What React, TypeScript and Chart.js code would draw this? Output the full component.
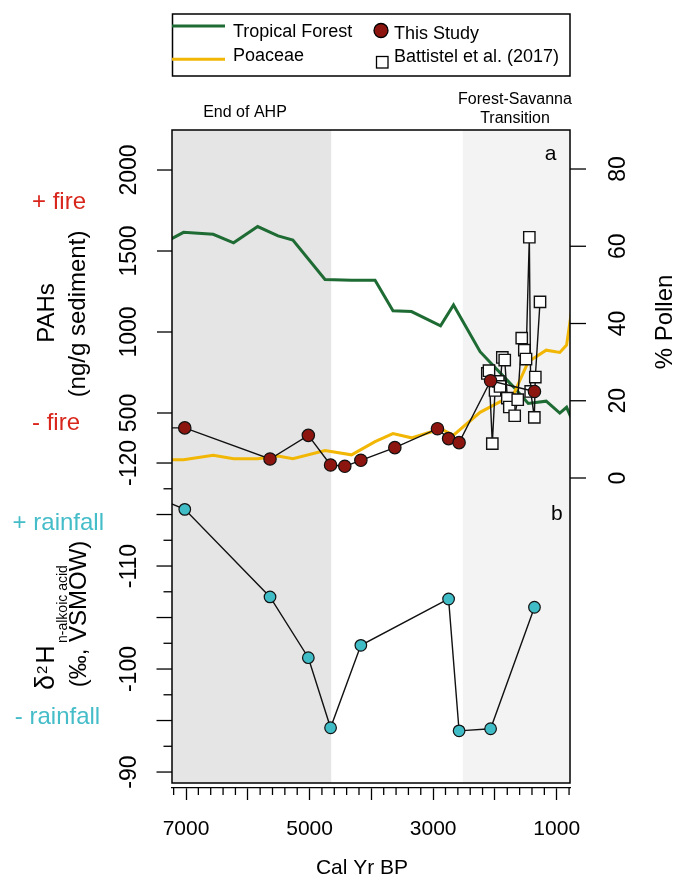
import React, { useEffect, useRef } from "react";
import { Chart, registerables } from "chart.js";

Chart.register(...registerables);

const FONT = "'Liberation Sans', Arial, Helvetica, sans-serif";

// ---------------- Data (x = calibrated years BP) ----------------
// Pollen record (% Pollen, right axis)
const pollenAge = [7300, 7040, 6560, 6230, 5840, 5510, 5270, 4750, 4320, 3940, 3650, 3350, 2880, 2670, 2240, 1700, 1460, 1170, 950, 840, 760];
const tropicalForestPct = [61.4, 63.6, 63.1, 60.9, 65.1, 62.7, 61.6, 51.4, 51.2, 51.2, 43.3, 43.1, 39.4, 44.8, 32.7, 23.6, 19.3, 19.9, 16.8, 18.3, 15.4];
const poaceaePct = [4.7, 4.7, 5.9, 5.0, 5.0, 5.7, 5.0, 7.1, 6.0, 9.4, 11.5, 10.4, 12.7, 11.1, 17.0, 21.6, 30.1, 33.1, 32.5, 34.4, 43.2];

// PAHs (ng/g sediment) - this study
const studyAge = [7400, 7020, 5640, 5020, 4660, 4430, 4170, 3620, 2930, 2750, 2580, 2070, 1360];
const studyPAH = [408, 408, 216, 362, 179, 171, 208, 286, 403, 342, 317, 699, 633];

// PAHs (ng/g sediment) - Battistel et al. (2017)
const battistelAge = [2123, 2096, 2042, 1998, 1945, 1917, 1880, 1841, 1799, 1767, 1680, 1631, 1566, 1524, 1497, 1443, 1421, 1362, 1346, 1270];
const battistelPAH = [744, 761, 311, 639, 695, 664, 843, 827, 592, 537, 483, 582, 962, 888, 833, 1585, 633, 473, 722, 1186];

// δ2H n-alkoic acid (‰, VSMOW)
const d2hAge = [7500, 7020, 5640, 5020, 4660, 4170, 2750, 2580, 2070, 1360];
const d2hValue = [-116.7, -115.5, -107.0, -101.1, -94.3, -102.3, -106.8, -94.0, -94.2, -106.0];

// Ticks
const xTickValues = [7200, 7000, 6800, 6600, 6400, 6200, 6000, 5800, 5600, 5400, 5200, 5000, 4800, 4600, 4400, 4200, 4000, 3800, 3600, 3400, 3200, 3000, 2800, 2600, 2400, 2200, 2000, 1800, 1600, 1400, 1200, 1000, 800];
const xMajorTicks = [7000, 6000, 5000, 4000, 3000, 2000, 1000];
const xTickLabels = [7000, 5000, 3000, 1000];
const pahTicks = [500, 1000, 1500, 2000];
const d2hTicks = [-120, -117.5, -115, -112.5, -110, -107.5, -105, -102.5, -100, -97.5, -95, -92.5, -90];
const d2hMajorTicks = [-120, -115, -110, -105, -100, -95, -90];
const d2hTickLabels = [-120, -110, -100, -90];
const pollenTicks = [0, 20, 40, 60, 80];

// Shaded periods
const ahpEndAge = 4650;
const transitionStartAge = 2520;

const pts = (xs: number[], ys: number[]) => xs.map((x, i) => ({ x, y: ys[i] }));

function rotText(ctx: CanvasRenderingContext2D, text: string, x: number, y: number, font: string, color = "#000", align: CanvasTextAlign = "center", baseline: CanvasTextBaseline = "alphabetic") {
  ctx.save();
  ctx.translate(x, y);
  ctx.rotate(-Math.PI / 2);
  ctx.font = font;
  ctx.fillStyle = color;
  ctx.textAlign = align;
  ctx.textBaseline = baseline;
  ctx.fillText(text, 0, 0);
  ctx.restore();
}

function text(ctx: CanvasRenderingContext2D, t: string, x: number, y: number, font: string, color = "#000", align: CanvasTextAlign = "center") {
  ctx.save();
  ctx.font = font;
  ctx.fillStyle = color;
  ctx.textAlign = align;
  ctx.textBaseline = "middle";
  ctx.fillText(t, x, y);
  ctx.restore();
}

function line(ctx: CanvasRenderingContext2D, x1: number, y1: number, x2: number, y2: number, w = 1.3, c = "#000") {
  ctx.save();
  ctx.beginPath();
  ctx.moveTo(x1, y1);
  ctx.lineTo(x2, y2);
  ctx.lineWidth = w;
  ctx.strokeStyle = c;
  ctx.stroke();
  ctx.restore();
}

const RED = "#8C1510";
const CYAN = "#40BCC6";
const GREEN = "#1E6B34";
const YELLOW = "#F2B705";
const FIRE_RED = "#D9261C";
const RAIN_CYAN = "#45BDC9";

const decor = {
  id: "decor",
  beforeDatasetsDraw(chart: any) {
    const { ctx, chartArea: ca, scales } = chart;
    const x = scales.x;
    const boxBottom = ca.bottom - 5;
    ctx.save();
    ctx.fillStyle = "#E5E5E5";
    const ahpR = x.getPixelForValue(ahpEndAge);
    ctx.fillRect(ca.left, ca.top, ahpR - ca.left, boxBottom - ca.top);
    ctx.fillStyle = "#F3F3F3";
    const fsL = x.getPixelForValue(transitionStartAge);
    ctx.fillRect(fsL, ca.top, ca.right - fsL, boxBottom - ca.top);
    ctx.restore();
  },
  afterDatasetsDraw(chart: any) {
    const { ctx, chartArea: ca } = chart;
    ctx.save();
    ctx.lineWidth = 1.5;
    ctx.strokeStyle = "#000";
    ctx.strokeRect(ca.left, ca.top, ca.right - ca.left, ca.bottom - 5 - ca.top);
    ctx.restore();
  },
  afterDraw(chart: any) {
    const { ctx, chartArea: ca, scales } = chart;
    const x = scales.x, yP = scales.yP, yD = scales.yD, yPol = scales.yPol;
    const tickFont = `23px ${FONT}`;

    // minor x ticks
    xTickValues.forEach((v) => {
      if (xMajorTicks.includes(v)) return;
      const px = x.getPixelForValue(v);
      line(ctx, px, ca.bottom, px, ca.bottom + 7);
    });

    // PAH axis (left, top)
    pahTicks.forEach((v) => {
      const py = yP.getPixelForValue(v);
      line(ctx, ca.left - 15, py, ca.left, py);
      rotText(ctx, String(v), 135.5, py, tickFont);
    });

    // δ2H axis (left, bottom)
    d2hTicks.forEach((v) => {
      const py = yD.getPixelForValue(v);
      const len = d2hMajorTicks.includes(v) ? 15.5 : 8.5;
      line(ctx, ca.left - len, py, ca.left, py);
      if (d2hTickLabels.includes(v)) rotText(ctx, String(v), 135.5, py, tickFont);
    });

    // Pollen axis (right)
    pollenTicks.forEach((v) => {
      const py = yPol.getPixelForValue(v);
      line(ctx, ca.right, py, ca.right + 16, py);
      rotText(ctx, String(v), 625, py, tickFont);
    });

    // Axis titles
    rotText(ctx, "PAHs", 53.5, 313, `24px ${FONT}`);
    rotText(ctx, "(ng/g sediment)", 84.5, 314, `24px ${FONT}`);
    rotText(ctx, "% Pollen", 671.5, 322, `24px ${FONT}`);
    text(ctx, "Cal Yr BP", 362, 868, `21px ${FONT}`);

    // δ2H title with super/subscripts
    ctx.save();
    ctx.translate(53.5, 690);
    ctx.rotate(-Math.PI / 2);
    ctx.fillStyle = "#000";
    ctx.textBaseline = "alphabetic";
    ctx.textAlign = "left";
    ctx.font = `27px ${FONT}`;
    ctx.fillText("δ", 0, 0);
    ctx.font = `15px ${FONT}`;
    ctx.fillText("2", 16, -7);
    ctx.font = `25px ${FONT}`;
    ctx.fillText("H", 26.5, 0);
    ctx.font = `14px ${FONT}`;
    ctx.fillText("n-alkoic acid", 47, 13.5);
    ctx.restore();
    rotText(ctx, "(‰, VSMOW)", 86, 614, `24px ${FONT}`);

    // fire / rainfall annotations
    text(ctx, "+ fire", 32, 202, `24px ${FONT}`, FIRE_RED, "left");
    text(ctx, "- fire", 32, 423, `24px ${FONT}`, FIRE_RED, "left");
    text(ctx, "+ rainfall", 58.3, 523, `24px ${FONT}`, RAIN_CYAN);
    text(ctx, "- rainfall", 57.5, 717, `24px ${FONT}`, RAIN_CYAN);

    // Period labels
    text(ctx, "End of AHP", 245, 113, `16px ${FONT}`);
    text(ctx, "Forest-Savanna", 515, 100, `16px ${FONT}`);
    text(ctx, "Transition", 515, 119, `16px ${FONT}`);

    // panel letters
    text(ctx, "a", 550.5, 154, `21px ${FONT}`);
    text(ctx, "b", 556.8, 514, `21px ${FONT}`);

    // Legend
    ctx.save();
    ctx.lineWidth = 1.5;
    ctx.strokeStyle = "#000";
    ctx.strokeRect(172.5, 14, 397.5, 62);
    ctx.restore();
    line(ctx, 172, 26, 225, 26, 3, GREEN);
    line(ctx, 172, 59.3, 225, 59.3, 3, YELLOW);
    text(ctx, "Tropical Forest", 233, 32, `18px ${FONT}`, "#000", "left");
    text(ctx, "Poaceae", 233, 56, `18px ${FONT}`, "#000", "left");
    ctx.save();
    ctx.beginPath();
    ctx.arc(381, 30.5, 7, 0, Math.PI * 2);
    ctx.fillStyle = RED;
    ctx.fill();
    ctx.lineWidth = 1.3;
    ctx.strokeStyle = "#000";
    ctx.stroke();
    ctx.fillStyle = "#fff";
    ctx.fillRect(376.5, 56.5, 11.5, 11.5);
    ctx.strokeRect(376.5, 56.5, 11.5, 11.5);
    ctx.restore();
    text(ctx, "This Study", 394, 34.5, `18px ${FONT}`, "#000", "left");
    text(ctx, "Battistel et al. (2017)", 394, 57.5, `18px ${FONT}`, "#000", "left");
  },
};

export default function App() {
  const ref = useRef<HTMLCanvasElement>(null);

  useEffect(() => {
    const canvas = ref.current;
    if (!canvas) return;
    Chart.defaults.font.family = FONT;

    const chart = new Chart(canvas, {
      type: "scatter",
      data: {
        datasets: [
          {
            label: "δ2H",
            data: pts(d2hAge, d2hValue),
            yAxisID: "yD",
            showLine: true,
            borderColor: "#111",
            borderWidth: 1.4,
            pointRadius: 5.8,
            pointBackgroundColor: CYAN,
            pointBorderColor: "#111",
            pointBorderWidth: 1.2,
            order: 0,
            clip: 0,
          } as any,
          {
            label: "This Study",
            data: pts(studyAge, studyPAH),
            yAxisID: "yP",
            showLine: true,
            borderColor: "#111",
            borderWidth: 1.4,
            pointRadius: 6.2,
            pointBackgroundColor: RED,
            pointBorderColor: "#111",
            pointBorderWidth: 1.2,
            order: 1,
            clip: 0,
          },
          {
            label: "Battistel et al. (2017)",
            data: pts(battistelAge, battistelPAH),
            yAxisID: "yP",
            showLine: true,
            borderColor: "#111",
            borderWidth: 1.4,
            pointStyle: "rect",
            pointRadius: 8,
            pointBackgroundColor: "#fff",
            pointBorderColor: "#111",
            pointBorderWidth: 1.4,
            order: 2,
            clip: 0,
          },
          {
            label: "Poaceae",
            data: pts(pollenAge, poaceaePct),
            yAxisID: "yPol",
            showLine: true,
            borderColor: YELLOW,
            borderWidth: 3,
            pointRadius: 0,
            order: 3,
            clip: 0,
          },
          {
            label: "Tropical Forest",
            data: pts(pollenAge, tropicalForestPct),
            yAxisID: "yPol",
            showLine: true,
            borderColor: GREEN,
            borderWidth: 3,
            pointRadius: 0,
            order: 4,
            clip: 0,
          },
        ],
      },
      options: {
        responsive: false,
        animation: false,
        events: [],
        layout: { padding: { left: 172, right: 104, top: 130, bottom: 0 } },
        plugins: { legend: { display: false }, tooltip: { enabled: false } },
        scales: {
          x: {
            type: "linear",
            position: "bottom",
            reverse: true,
            min: 784.7,
            max: 7226.6,
            bounds: "data",
            afterBuildTicks: (s: any) => {
              s.ticks = xTickValues.map((v) => ({ value: v }));
            },
            afterFit: (s: any) => {
              s.height = 92;
            },
            grid: {
              display: true,
              drawOnChartArea: false,
              drawTicks: true,
              tickLength: 12,
              tickWidth: 1.3,
              tickColor: (c: any) => (c.tick && xMajorTicks.includes(c.tick.value) ? "#000" : "rgba(0,0,0,0)"),
            },
            border: { display: true, color: "#000", width: 1.3 },
            ticks: {
              autoSkip: false,
              maxRotation: 0,
              minRotation: 0,
              padding: 17,
              color: "#000",
              font: { size: 21, family: FONT },
              callback: (v: any) => (xTickLabels.includes(Number(v)) ? String(v) : ""),
            },
          },
          yP: { type: "linear", display: false, position: "left", min: -1815, max: 2247, bounds: "data" },
          yD: { type: "linear", display: false, position: "left", reverse: true, min: -152.33, max: -88.45, bounds: "data" },
          yPol: { type: "linear", display: false, position: "right", min: -80.26, max: 90.1, bounds: "data" },
        } as any,
      },
      plugins: [decor],
    });

    return () => chart.destroy();
  }, []);

  return (
    <div style={{ position: "absolute", left: 0, top: 0, width: 674, height: 880, background: "#fff" }}>
      <canvas ref={ref} width={674} height={880} style={{ display: "block", width: 674, height: 880 }} />
    </div>
  );
}
